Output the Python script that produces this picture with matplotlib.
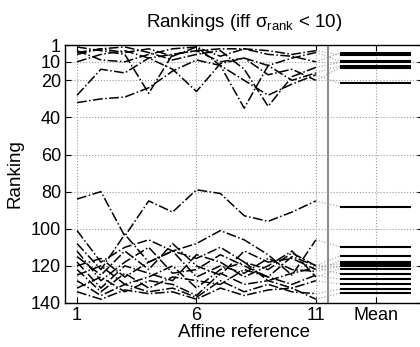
import numpy as np
import matplotlib
matplotlib.use("Agg")
import matplotlib.pyplot as plt

plt.rcParams['font.family'] = ['Liberation Sans', 'DejaVu Sans']
plt.rcParams['mathtext.fontset'] = 'custom'
plt.rcParams['mathtext.rm'] = 'Liberation Sans'
plt.rcParams['mathtext.it'] = 'Liberation Sans'

refs = np.arange(1, 12)

# rank of each item for affine references 1..11
top_ranks = [
    [5, 3, 5, 3, 7, 2, 7, 3, 6, 7, 10],
    [2, 4, 6, 27, 6, 4, 3, 3, 4, 6, 4],
    [4, 9, 10, 6, 3, 2, 12, 35, 12, 8, 5],
    [6, 3, 2, 5, 9, 6, 4, 14, 34, 18, 13],
    [10, 6, 4, 8, 14, 26, 11, 8, 12, 20, 16],
    [28, 14, 16, 8, 6, 4, 10, 8, 17, 14, 20],
    [32, 30, 29, 24, 15, 9, 12, 20, 28, 22, 17],
]
mid_ranks = [
    [84, 80, 104, 85, 91, 79, 81, 93, 96, 91, 85],
]
low_ranks = [
    [101, 118, 110, 106, 112, 108, 101, 106, 114, 125, 106],
    [108, 122, 103, 118, 112, 116, 110, 118, 122, 113, 120],
    [115, 125, 112, 122, 108, 120, 125, 112, 118, 116, 122],
    [112, 128, 118, 110, 124, 122, 114, 120, 126, 115, 120],
    [120, 116, 126, 118, 112, 126, 120, 124, 116, 122, 123],
    [118, 132, 120, 124, 128, 114, 118, 126, 120, 112, 126],
    [125, 120, 130, 126, 120, 132, 122, 118, 128, 124, 121],
    [122, 134, 124, 132, 126, 128, 130, 122, 126, 130, 125],
    [132, 126, 134, 128, 130, 136, 124, 130, 128, 132, 128],
    [128, 136, 130, 134, 132, 137, 128, 134, 130, 134, 135],
    [134, 138, 133, 135, 134, 138, 132, 136, 133, 132, 138],
]
all_ranks = top_ranks + mid_ranks + low_ranks

yticks = [1, 10, 20, 40, 60, 80, 100, 120, 140]
xticks = [1, 6, 11, 13.5]
xticklabels = ['1', '6', '11', 'Mean']

fig = plt.figure(figsize=(4.2, 3.47), dpi=100)
ax = fig.add_axes([0.155, 0.127, 0.853, 0.743])

for r in all_ranks:
    ax.plot(refs, r, color='k', linestyle='-.', lw=1.1)
    m = np.mean(r)
    ax.plot([11, 12], [r[-1], m], color='0.6', linestyle=':', lw=0.8)
    ax.plot([12, 15], [m, m], color='k', lw=1.5, solid_capstyle='butt')

ax.axvline(11.5, color='0.55', lw=1.5)

ax.set_xlim(0.5, 15.5)
ax.set_ylim(140, 1)
ax.set_xticks(xticks)
ax.set_xticklabels(xticklabels)
ax.set_yticks(yticks)
ax.grid(True, color='0.6', linestyle=':', lw=0.8)
ax.tick_params(direction='in', top=True, right=True, length=4, labelsize=13, pad=3)
for s in ax.spines.values():
    s.set_linewidth(1.0)

ax.set_xlabel('Affine reference', fontsize=13.5, labelpad=0)
ax.set_ylabel('Ranking', fontsize=13.5, labelpad=5)
ax.set_title(r'Rankings (iff $\sigma_{\mathrm{rank}}$ < 10)', fontsize=13.5, pad=13)

fig.savefig('out.png', dpi=100)
